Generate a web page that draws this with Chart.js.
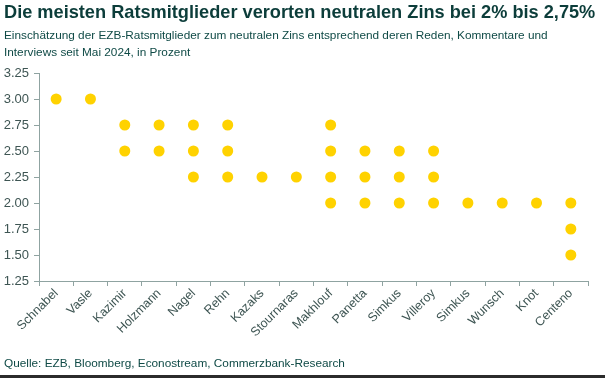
<!DOCTYPE html>
<html>
<head>
<meta charset="utf-8">
<script src="https://cdn.jsdelivr.net/npm/chart.js@4"></script>
<style>
  html, body { margin: 0; padding: 0; background: #fff; }
  #wrap { position: relative; width: 605px; height: 378px; overflow: hidden; font-family: "Liberation Sans", Arial, sans-serif; }
  #title { position: absolute; left: 4px; top: 2px; font-size: 18.2px; font-weight: bold; color: #0c3d3a; white-space: nowrap; }
  #sub { position: absolute; left: 4px; top: 27px; font-size: 11.8px; line-height: 16.5px; color: #0f4a46; }
  #src { position: absolute; left: 4px; top: 356px; font-size: 11.8px; color: #0f4a46; }
  #line { position: absolute; left: 0; top: 375px; width: 605px; height: 3px; background: #2b2b2b; }
  #c { position: absolute; left: 0; top: 0; }
</style>
</head>
<body>
<div id="wrap">
  <canvas id="c" width="605" height="378"></canvas>
  <div id="title">Die meisten Ratsmitglieder verorten neutralen Zins bei 2% bis 2,75%</div>
  <div id="sub">Einschätzung der EZB-Ratsmitglieder zum neutralen Zins entsprechend deren Reden, Kommentare und<br>Interviews seit Mai 2024, in Prozent</div>
  <div id="src">Quelle: EZB, Bloomberg, Econostream, Commerzbank-Research</div>
  <div id="line"></div>
</div>
<script>
const members = ["Schnabel","Vasle","Kazimir","Holzmann","Nagel","Rehn","Kazaks","Stournaras","Makhlouf","Panetta","Simkus","Villeroy","Simkus","Wunsch","Knot","Centeno"];
const estimates = [
  [3.00],
  [3.00],
  [2.75, 2.50],
  [2.75, 2.50],
  [2.75, 2.50, 2.25],
  [2.75, 2.50, 2.25],
  [2.25],
  [2.25],
  [2.75, 2.50, 2.25, 2.00],
  [2.50, 2.25, 2.00],
  [2.50, 2.25, 2.00],
  [2.50, 2.25, 2.00],
  [2.00],
  [2.00],
  [2.00],
  [2.00, 1.75, 1.50]
];
const yTicks = [1.25, 1.50, 1.75, 2.00, 2.25, 2.50, 2.75, 3.00, 3.25];

const maxCount = Math.max(...estimates.map(v => v.length));
const datasets = [];
for (let k = 0; k < maxCount; k++) {
  datasets.push({
    data: estimates.map(v => (v[k] !== undefined ? v[k] : null)),
    showLine: false,
    pointRadius: 5.5,
    pointHoverRadius: 5.5,
    pointBackgroundColor: '#FFD200',
    pointBorderWidth: 0,
    borderColor: '#FFD200'
  });
}

const axisColor = '#8fa3a1';
const tickColor = '#3e5553';

new Chart(document.getElementById('c'), {
  type: 'line',
  data: { labels: members, datasets: datasets },
  options: {
    responsive: false,
    animation: false,
    events: [],
    layout: { padding: { top: 73, left: 0, right: 17, bottom: 0 } },
    plugins: { legend: { display: false }, tooltip: { enabled: false } },
    scales: {
      x: {
        type: 'category',
        offset: true,
        grid: { offset: true, drawOnChartArea: false, drawTicks: true, tickLength: 5, color: axisColor },
        border: { color: axisColor, width: 1 },
        ticks: {
          minRotation: 45, maxRotation: 45, autoSkip: false,
          color: tickColor, font: { family: "Liberation Sans", size: 12.5 }, padding: 0
        },
        afterFit: s => { s.height = 97; }
      },
      y: {
        min: 1.25, max: 3.25,
        afterBuildTicks: s => { s.ticks = yTicks.map(v => ({value: v})); },
        grid: { drawOnChartArea: false, drawTicks: true, tickLength: 5, color: axisColor },
        border: { color: axisColor, width: 1 },
        ticks: {
          color: tickColor, font: { family: "Liberation Sans", size: 13 }, padding: 5,
          callback: v => Number(v).toFixed(2)
        },
        afterFit: s => { s.width = 39; }
      }
    }
  }
});
</script>
</body>
</html>
